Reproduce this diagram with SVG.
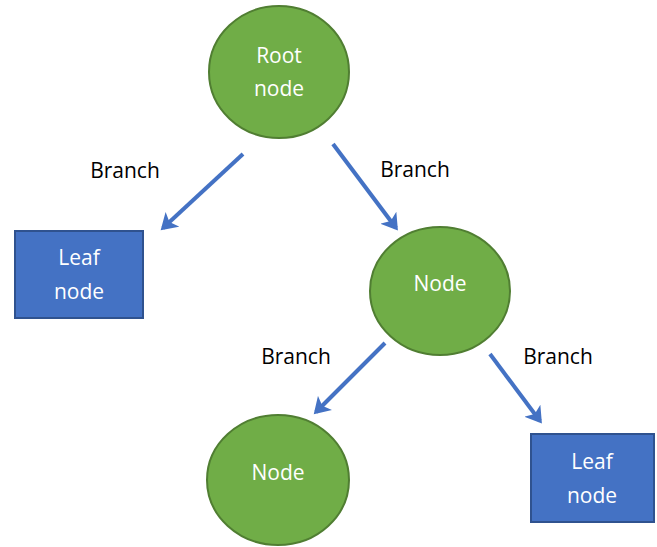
<svg xmlns="http://www.w3.org/2000/svg" width="657" height="547" viewBox="0 0 657 547">
<style>
.circ{fill:#70AD47;stroke:#507E32;stroke-width:2}
.leaf{fill:#4472C4;stroke:#2F528F;stroke-width:2}
.nt{fill:#fff;font-family:"Open Sans","Liberation Sans",sans-serif;font-size:21px;text-anchor:middle}
.bl{fill:#000;font-family:"Open Sans","Liberation Sans",sans-serif;font-size:21px;text-anchor:middle}
.con{stroke:#4472C4;stroke-width:4;fill:none;marker-end:url(#ah)}
</style>
<defs>
<marker id="ah" markerWidth="5" markerHeight="5" refX="3.2" refY="2.5" orient="auto" markerUnits="strokeWidth">
<path d="M0,0 L4,2.5 L0,5 L1,2.5 Z" fill="#4472C4"/>
</marker>
</defs>
<g id="connectors">
<line class="con" x1="243" y1="154" x2="163" y2="228"/>
<line class="con" x1="333" y1="144" x2="396" y2="228"/>
<line class="con" x1="385" y1="343" x2="316" y2="412"/>
<line class="con" x1="490" y1="354" x2="540" y2="421"/>
</g>
<g id="labels">
<text class="bl" x="125" y="178">Branch</text>
<text class="bl" x="415" y="177">Branch</text>
<text class="bl" x="296" y="364">Branch</text>
<text class="bl" x="558" y="364">Branch</text>
</g>
<g id="root">
<ellipse class="circ" cx="279" cy="72" rx="70" ry="66"/>
<text class="nt" x="279" y="63">Root</text>
<text class="nt" x="279" y="96">node</text>
</g>
<g id="leaf1">
<rect class="leaf" x="15" y="231" width="128" height="87"/>
<text class="nt" x="79" y="265">Leaf</text>
<text class="nt" x="79" y="299">node</text>
</g>
<g id="node1">
<ellipse class="circ" cx="440" cy="291" rx="70" ry="64"/>
<text class="nt" x="440" y="291">Node</text>
</g>
<g id="node2">
<ellipse class="circ" cx="278" cy="480" rx="71" ry="65"/>
<text class="nt" x="278" y="480">Node</text>
</g>
<g id="leaf2">
<rect class="leaf" x="531" y="434" width="123" height="88"/>
<text class="nt" x="592" y="469">Leaf</text>
<text class="nt" x="592" y="503">node</text>
</g>
</svg>
